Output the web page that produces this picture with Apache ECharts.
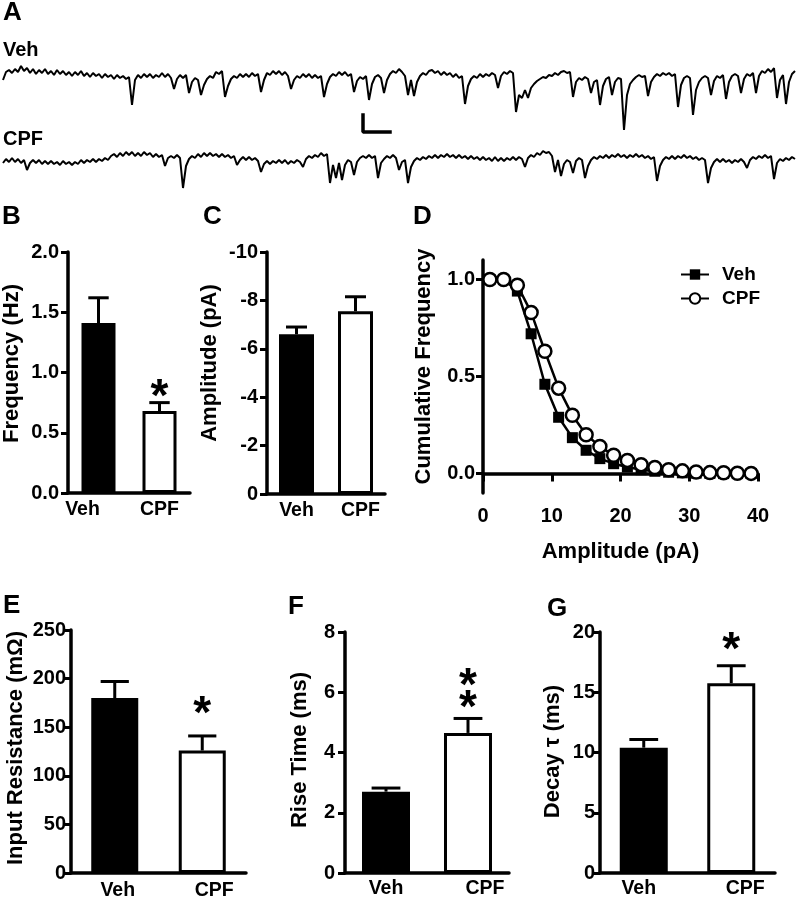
<!DOCTYPE html>
<html><head><meta charset="utf-8">
<script src="https://cdn.jsdelivr.net/npm/echarts@6/dist/echarts.min.js"></script>
<style>html,body{margin:0;padding:0;background:#fff}#c{width:798px;height:899px}</style>
</head><body><div id="c"></div>
<script>
// ---------- DATA ----------
const traceDt = 3; // sampling step of the traces (time units)
const vehTrace = [
-5,3,5,2,6,3,9,4,7,2, 6,1,5,2,6,1,4,0,5,1, 4,0,3,-1,3,0,4,-1,2,-2, 2,-1,1,-3,1,-2,0,-4,0,-3,
-1,-4,-2,-30,-5,0,-3,1,-2,1, -3,0,-2,2,-2,1,-3,-14,-4,0, -3,0,-18,-7,-3,-5,-20,-10,-4,-1, -3,3,1,4,-22,-11,-4,-1,-3,1,
-2,1,-2,2,-1,1,-17,-5,2,0, 4,1,4,0,3,-1,-14,-5,-1,-3, 1,-2,1,-3,0,-3,-1,-22,-9,-2, 1,-1,3,0,3,-1,1,-17,-6,-2,
-4,-1,-25,-9,-2,0,-3,-18,-5,1, 4,2,6,3,-1,-20,-5,-21,-7,-1, 2,0,4,5,2,4,0,3,0,2, -2,1,-3,-1,-29,-11,-4,-1,-3,1,
-2,1,-1,2,0,-13,-1,3,1,4, 2,-37,-20,-23,-15,-23,-13,-9,-6,-4, -2,-3,0,-1,2,0,3,4,2,3, -22,-7,-3,-5,-2,-4,-18,-7,-5,-30,
-11,-4,-2,-20,-7,-3,-4,-55,-20,-9, -5,-2,0,-2,-1,-21,-7,-2,1,-1, 2,0,2,-1,1,-32,-10,-3,-1,-3, -40,-15,-7,-3,-1,-3,-20,-6,-1,-3,
0,-24,-7,-1,1,-1,-18,-4,1,-1, 2,-18,-1,4,2,6,3,7,-23,-5, 0,-29,-7,1,4
];
const cpfTrace = [
-3,1,-2,2,-2,1,-3,0,-10,-3, 0,-3,0,-4,-1,-4,-1,-4,-2,-5, -1,-4,-2,-5,-2,-4,0,-3,0,-2, 1,-2,1,-1,2,0,4,6,3,7,
4,8,5,8,4,7,4,8,5,7, 3,6,3,5,-6,2,4,2,5,2, -28,-6,1,4,2,6,3,7,4,7, 4,6,3,6,3,5,2,4,-5,0,
3,0,3,0,2,-1,-12,-4,-1,-4, -1,-3,0,-3,0,-4,-1,-3,0,-2, -7,1,4,2,5,3,7,4,6,-23, -5,-18,-3,-20,-5,0,-2,-15,-2,2,
4,2,5,2,4,-18,-3,1,4,2, 5,2,-10,-2,0,-23,-7,-1,2,0, 3,1,4,2,5,2,5,3,6,3, 5,2,5,2,4,1,4,1,3,0,
3,0,2,-1,3,-1,2,-1,2,0, 3,0,3,1,-7,2,5,3,7,5, 9,7,8,4,-12,0,-16,-4,0,-2, -13,-1,2,0,-18,-6,0,3,1,4,
2,5,2,5,3,6,3,5,2,5, 3,6,3,5,2,4,1,3,-21,-6, 0,3,1,4,1,4,2,5,2,4, 1,3,0,2,0,-23,-8,-2,1,-2,
1,-2,0,-3,0,-2,1,-2,-8,0, 3,1,4,2,5,2,4,-19,-3,1, -1,2,0,3,1
];
const scaleBarT = [360, 360, 387];
const scaleBarI = [-40, -57, -57];

const groups = ['Veh', 'CPF'];
const freqMean = [1.41, 0.68];   const freqErr = [0.21, 0.07];
const ampMean = [-6.6, -7.55];   const ampErr = [0.3, 0.6];
const resMean = [180, 126];      const resErr = [17, 15];
const riseMean = [2.7, 4.65];    const riseErr = [0.12, 0.48];
const decayMean = [10.4, 15.75]; const decayErr = [0.68, 1.45];

const cumAmp = [1,3,5,7,9,11,13,15,17,19,21,23,25,27,29,31,33,35,37,39];
const cumVeh = [1.0,1.0,0.94,0.72,0.46,0.29,0.185,0.12,0.077,0.051,0.034,0.02,0.012,0.007,0.004,0.002,0.001,0.0,0.0,0.0];
const cumCpf = [1.0,1.0,0.97,0.83,0.63,0.44,0.30,0.20,0.14,0.094,0.068,0.046,0.031,0.02,0.014,0.008,0.005,0.004,0.002,0.001];

const starB = [[1, 0.87]];
const starE = [[1, 173]];
const starF = [[1, 6.5], [1, 5.75]];
const starG = [[1, 19.2]];

// ---------- STYLE HELPERS ----------
const FONT = '"Liberation Sans", Arial, Helvetica, sans-serif';
const txt = (s) => ({fontFamily: FONT, fontWeight: 'bold', fontSize: s, color: '#000'});
const AXW = 3.5;
const TICK = 20, CAT = 19.5, NAME = 22;

const grids = [
  {left: 3, top: 40, width: 792, height: 100},
  {left: 3, top: 120, width: 792, height: 100},
  {left: 68, top: 252, width: 122, height: 241},
  {left: 267, top: 252, width: 118, height: 242},
  {left: 483, top: 260, width: 275, height: 233},
  {left: 71, top: 630, width: 175, height: 243},
  {left: 345, top: 632, width: 164, height: 241},
  {left: 600, top: 632, width: 175, height: 241}
].map(g => Object.assign({outerBoundsMode: 'none', containLabel: false}, g));

function catAxis(gi, pads, margin) {
  const rich = {};
  pads.forEach((p, i) => { rich['s' + i] = Object.assign(txt(CAT), {padding: p}); });
  return {type: 'category', gridIndex: gi, data: groups,
    axisTick: {show: false},
    axisLine: {lineStyle: {color: '#000', width: AXW}},
    axisLabel: Object.assign(txt(CAT), {margin: margin, interval: 0,
      formatter: (v, i) => '{s' + i + '|' + v + '}', rich})};
}
function valAxis(gi, min, max, interval, name, nameGap, namePad, fmt, labelMargin, extra) {
  return Object.assign({type: 'value', gridIndex: gi, min, max, interval,
    axisLine: {show: true, lineStyle: {color: '#000', width: AXW}},
    axisTick: {show: true, length: 7, lineStyle: {color: '#000', width: 3}},
    splitLine: {show: false},
    axisLabel: Object.assign(txt(TICK), {margin: labelMargin, formatter: fmt}),
    name, nameLocation: 'middle', nameGap,
    nameTextStyle: Object.assign(txt(NAME), {padding: namePad})}, extra || {});
}
function errRenderer(capHalf) {
  return function (params, api) {
    const i = api.value(0);
    const a = api.coord([i, api.value(1)]);
    const b = api.coord([i, api.value(2)]);
    const st = {stroke: '#000', lineWidth: 3, fill: null};
    return {type: 'group', children: [
      {type: 'line', shape: {x1: a[0], y1: a[1], x2: b[0], y2: b[1]}, style: st},
      {type: 'line', shape: {x1: b[0] - capHalf, y1: b[1], x2: b[0] + capHalf, y2: b[1]}, style: st}
    ]};
  };
}
function barPanel(gi, means, errs, bw) {
  return [
    {type: 'bar', xAxisIndex: gi, yAxisIndex: gi, barWidth: bw, z: 2,
      data: means.map((m, i) => ({value: m, itemStyle: {color: i === 0 ? '#000' : '#fff', borderColor: '#000', borderWidth: 3}}))},
    {type: 'custom', xAxisIndex: gi, yAxisIndex: gi, z: 3, renderItem: errRenderer(bw * 0.3),
      data: means.map((m, i) => [i, m, m + Math.sign(m) * errs[i]])}
  ];
}
function stars(gi, pts) {
  return {type: 'custom', xAxisIndex: gi, yAxisIndex: gi, z: 5, silent: true, data: pts,
    renderItem: function (params, api) {
      const p = api.coord([api.value(0), api.value(1)]);
      return {type: 'text', x: p[0], y: p[1] + 10,
        style: {text: '*', fill: '#000', font: 'bold 46px ' + FONT, align: 'center', verticalAlign: 'middle'}};
    }};
}
const fmt1 = v => v.toFixed(1);
const fmt0 = v => String(v);
const hid = (gi, min, max) => ({type: 'value', gridIndex: gi, min, max, show: false});

const option = {
  animation: false,
  backgroundColor: '#fff',
  title: [
    ['A', 3, 0, 26], ['Veh', 3, 40, 20], ['CPF', 3, 129, 20],
    ['B', 2, 204, 26], ['C', 203, 204, 26], ['D', 413, 204, 26],
    ['E', 3, 593, 26], ['F', 288, 594, 26], ['G', 547, 596, 26]
  ].map(t => ({text: t[0], left: t[1], top: t[2], padding: 0, textStyle: txt(t[3])})),
  grid: grids,
  legend: {data: ['Veh', 'CPF'], orient: 'vertical', left: 675, top: 260, itemWidth: 28, itemHeight: 13,
    itemGap: 5, selectedMode: false, textStyle: Object.assign(txt(19), {padding: [0, 0, 0, 8]})},
  xAxis: [
    hid(0, 0, 792), hid(1, 0, 792),
    catAxis(2, [[0, 32, 0, 0], [0, 0, 0, 0]], 7),
    catAxis(3, [[0, 0, 0, 0], [0, 0, 0, 10]], 7),
    {type: 'value', gridIndex: 4, min: 0, max: 40, interval: 10,
      axisLine: {lineStyle: {color: '#000', width: AXW}},
      axisTick: {show: true, length: 8, lineStyle: {color: '#000', width: 3}},
      splitLine: {show: false},
      axisLabel: Object.assign(txt(TICK), {margin: 13}),
      name: 'Amplitude (pA)', nameLocation: 'middle', nameGap: 48, nameTextStyle: txt(NAME)},
    catAxis(5, [[0, 0, 0, 6], [0, 0, 0, 24]], 8),
    catAxis(6, [[0, 0, 0, 0], [0, 0, 0, 34]], 6),
    catAxis(7, [[0, 10, 0, 0], [0, 0, 0, 28]], 6)
  ],
  yAxis: [
    hid(0, -65, 35), hid(1, -60, 40),
    valAxis(2, 0, 2, 0.5, 'Frequency (Hz)', 45, [0, 0, 0, 18], fmt1, 9),
    valAxis(3, -10, 0, 2, 'Amplitude (pA)', 46, [0, 0, 0, 20], fmt0, 9, {inverse: true}),
    valAxis(4, -0.1, 1.1, 0.5, 'Cumulative Frequency', 48, [0, 0, 0, 20], fmt1, 8, {
      axisLabel: Object.assign(txt(TICK), {margin: 8, formatter: fmt1, customValues: [0, 0.5, 1.0]}),
      axisTick: {show: true, length: 7, lineStyle: {color: '#000', width: 3}, customValues: [0, 0.5, 1.0]}}),
    valAxis(5, 0, 250, 50, 'Input Resistance (m\u03A9)', 44, [0, 0, 0, 7], fmt0, 5),
    valAxis(6, 0, 8, 2, 'Rise Time (ms)', 34, [0, 0, 0, 5], fmt0, 10),
    valAxis(7, 0, 20, 5, 'Decay \u03C4 (ms)', 36, [0, 0, 0, 2], fmt0, 5)
  ],
  series: [
    {type: 'line', name: 'vehTrace', xAxisIndex: 0, yAxisIndex: 0, symbol: 'none', lineStyle: {color: '#000', width: 2},
      data: vehTrace.map((v, i) => [i * traceDt, v])},
    {type: 'line', name: 'scalebar', xAxisIndex: 0, yAxisIndex: 0, symbol: 'none', lineStyle: {color: '#000', width: 3.5, cap: 'square'},
      data: scaleBarT.map((t, i) => [t, scaleBarI[i]])},
    {type: 'line', name: 'cpfTrace', xAxisIndex: 1, yAxisIndex: 1, symbol: 'none', lineStyle: {color: '#000', width: 2},
      data: cpfTrace.map((v, i) => [i * traceDt, v])},
    ...barPanel(2, freqMean, freqErr, 34),
    stars(2, starB),
    ...barPanel(3, ampMean, ampErr, 35),
    {type: 'line', name: 'Veh', xAxisIndex: 4, yAxisIndex: 4, symbol: 'rect', symbolSize: 11, z: 3,
      itemStyle: {color: '#000'}, lineStyle: {color: '#000', width: 2.5},
      data: cumAmp.map((a, i) => [a, cumVeh[i]])},
    {type: 'line', name: 'CPF', xAxisIndex: 4, yAxisIndex: 4, symbol: 'circle', symbolSize: 13, z: 4,
      itemStyle: {color: '#fff', borderColor: '#000', borderWidth: 2.5}, lineStyle: {color: '#000', width: 2.5},
      data: cumAmp.map((a, i) => [a, cumCpf[i]])},
    ...barPanel(5, resMean, resErr, 47),
    stars(5, starE),
    ...barPanel(6, riseMean, riseErr, 48),
    stars(6, starF),
    ...barPanel(7, decayMean, decayErr, 48),
    stars(7, starG)
  ]
};
const chart = echarts.init(document.getElementById('c'), null, {renderer: 'canvas'});
chart.setOption(option);
</script></body></html>
